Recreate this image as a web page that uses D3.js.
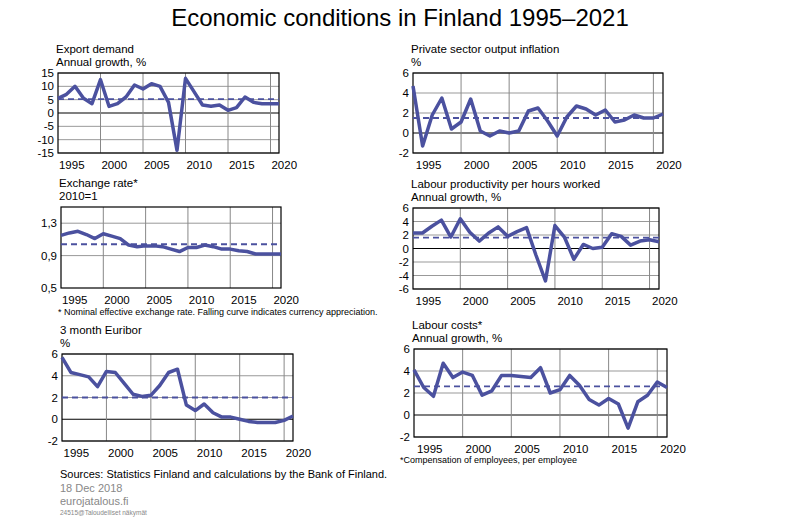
<!DOCTYPE html>
<html><head><meta charset="utf-8">
<script src="https://cdn.jsdelivr.net/npm/d3@7"></script>
<style>
body{margin:0;background:#fff;font-family:"Liberation Sans",Arial,sans-serif}
text{fill:#000}
</style></head><body>
<svg id="chart" width="800" height="523"></svg>
<script>
'use strict';
const years = d3.range(1995, 2022);
const exportDemand = [5.5, 7, 10, 5.5, 3.5, 12.5, 2.5, 3.5, 6, 10.5, 9, 11, 10, 4, -14, 13, 8, 3, 2.5, 3, 1, 2, 6, 4, 3.5, 3.5, 3.5];
const inflation = [4.7, -1.3, 1.8, 3.5, 0.4, 1.1, 3.4, 0.2, -0.3, 0.2, 0.0, 0.2, 2.2, 2.5, 1.2, -0.3, 1.6, 2.7, 2.4, 1.8, 2.3, 1.1, 1.3, 1.8, 1.5, 1.5, 1.9];
const exchangeRate = [1.15, 1.18, 1.20, 1.16, 1.11, 1.17, 1.14, 1.11, 1.03, 1.01, 1.02, 1.02, 1.01, 0.98, 0.95, 1.00, 1.00, 1.03, 1.01, 0.98, 0.98, 0.96, 0.95, 0.92, 0.92, 0.92, 0.92];
const productivity = [2.3, 2.3, 3.3, 4.2, 1.7, 4.4, 2.4, 1.1, 2.3, 3.2, 1.8, 2.5, 3.1, -1.0, -4.8, 3.4, 1.7, -1.6, 0.6, 0.0, 0.2, 2.2, 1.8, 0.5, 1.1, 1.3, 1.0];
const euribor = [5.7, 4.3, 4.1, 3.9, 3.0, 4.4, 4.3, 3.3, 2.3, 2.1, 2.2, 3.1, 4.3, 4.6, 1.3, 0.8, 1.4, 0.6, 0.2, 0.2, 0.0, -0.2, -0.3, -0.3, -0.3, -0.1, 0.3];
const labourCosts = [4.1, 2.5, 1.7, 4.7, 3.4, 3.9, 3.6, 1.8, 2.2, 3.6, 3.6, 3.5, 3.4, 4.3, 2.0, 2.3, 3.6, 2.7, 1.4, 0.9, 1.5, 1.0, -1.2, 1.2, 1.8, 3.0, 2.5];
const means = { exportDemand: 5.2, inflation: 1.5, exchangeRate: 1.04, productivity: 1.6, euribor: 2.0, labourCosts: 2.6 };
const xLabels = [1995, 2000, 2005, 2010, 2015, 2020];

const svg = d3.select('#chart');
const blue = '#4b519f';

svg.append('text').attr('x', 400).attr('y', 26).attr('text-anchor', 'middle')
  .style('font-size', '24px').text('Economic conditions in Finland 1995–2021');

// panel: draws one small chart into the given rectangle
const panel = function (p) {
  const g = svg.append('g');
  const x = d3.scaleLinear().domain([1995, 2021]).range([p.x0, p.x1]);
  const y = d3.scaleLinear().domain(p.dom).range([p.y1, p.y0]);
  // horizontal grid
  g.selectAll('line.h').data(p.grid).join('line')
    .attr('x1', p.x0).attr('x2', p.x1).attr('y1', d => y(d)).attr('y2', d => y(d))
    .attr('stroke', d => d === 0 ? '#000' : '#999').attr('stroke-width', d => d === 0 ? 1.2 : 1);
  // vertical grid
  g.selectAll('line.v').data([2000, 2005, 2010, 2015, 2020]).join('line')
    .attr('x1', d => x(d)).attr('x2', d => x(d)).attr('y1', p.y0).attr('y2', p.y1)
    .attr('stroke', '#888');
  g.append('rect').attr('x', p.x0).attr('y', p.y0).attr('width', p.x1 - p.x0).attr('height', p.y1 - p.y0)
    .attr('fill', 'none').attr('stroke', '#000').attr('stroke-width', 1.2);
  // y tick labels
  g.selectAll('text.yt').data(p.ticks).join('text')
    .attr('x', p.x0 - 4).attr('y', d => y(d) + 4).attr('text-anchor', 'end')
    .style('font-size', '11.5px').text(p.fmt || (d => d));
  // x tick labels
  g.selectAll('text.xt').data(xLabels).join('text')
    .attr('x', d => x(d) + 14 * (p.x1 - p.x0) / 225).attr('y', p.y1 + 16).attr('text-anchor', 'middle')
    .style('font-size', '11.5px').text(d => d);
  // mean line
  g.append('line').attr('x1', p.x0).attr('x2', p.x1).attr('y1', y(p.mean)).attr('y2', y(p.mean))
    .attr('stroke', blue).attr('stroke-width', 1.8).attr('stroke-dasharray', '6,4');
  g.append('path').datum(p.data)
    .attr('d', d3.line().x((d, i) => x(years[i])).y(d => y(d)))
    .attr('fill', 'none').attr('stroke', blue).attr('stroke-width', 3.5).attr('stroke-linejoin', 'round');
  // titles
  p.title.forEach((t, i) => {
    g.append('text').attr('x', p.x0 - 2).attr('y', p.y0 - 20 + i * 13).style('font-size', '11.5px').text(t);
  });
  if (p.note) {
    g.append('text').attr('x', p.nx).attr('y', p.y1 + 27).style('font-size', '9px').text(p.note);
  }
};

panel({ x0: 58, x1: 279, y0: 73, y1: 153, dom: [-15, 15], grid: d3.range(-15, 16, 5), ticks: d3.range(-15, 16, 5),
  data: exportDemand, mean: means.exportDemand, title: ['Export demand', 'Annual growth, %'] });
panel({ x0: 413, x1: 663, y0: 73, y1: 153, dom: [-2, 6], grid: d3.range(-2, 7, 2), ticks: d3.range(-2, 7, 2),
  data: inflation, mean: means.inflation, title: ['Private sector output inflation', '%'] });
panel({ x0: 61, x1: 281, y0: 207, y1: 288, dom: [0.5, 1.5], grid: [0.9, 1.3], ticks: [0.5, 0.9, 1.3],
  fmt: d => String(d).replace('.', ','), data: exchangeRate, mean: means.exchangeRate,
  title: ['Exchange rate*', '2010=1'], note: '* Nominal effective exchange rate. Falling curve indicates currency appreciation.', nx: 58 });
panel({ x0: 413, x1: 659, y0: 208, y1: 289, dom: [-6, 6], grid: d3.range(-6, 7, 2), ticks: d3.range(-6, 7, 2),
  data: productivity, mean: means.productivity, title: ['Labour productivity per hours worked', 'Annual growth, %'] });
panel({ x0: 62, x1: 293, y0: 354, y1: 441, dom: [-2, 6], grid: d3.range(-2, 7, 2), ticks: d3.range(-2, 7, 2),
  data: euribor, mean: means.euribor, title: ['3 month  Euribor', '%'] });
panel({ x0: 414, x1: 667, y0: 349, y1: 437, dom: [-2, 6], grid: d3.range(-2, 7, 2), ticks: d3.range(-2, 7, 2),
  data: labourCosts, mean: means.labourCosts, title: ['Labour costs*', 'Annual growth, %'] });
svg.append('text').attr('x', 400).attr('y', 463).style('font-size', '9px').text('*Compensation of employees, per employee');

svg.append('text').attr('x', 60).attr('y', 478).style('font-size', '11px').text('Sources: Statistics Finland and calculations by the Bank of Finland.');
svg.append('text').attr('x', 60).attr('y', 492).style('font-size', '11px').style('fill', '#888').text('18 Dec 2018');
svg.append('text').attr('x', 60).attr('y', 505).style('font-size', '11px').style('fill', '#888').text('eurojatalous.fi');
svg.append('text').attr('x', 60).attr('y', 515).style('font-size', '6.5px').style('fill', '#888').text('24515@Taloudelliset  näkymät');
</script></body></html>
